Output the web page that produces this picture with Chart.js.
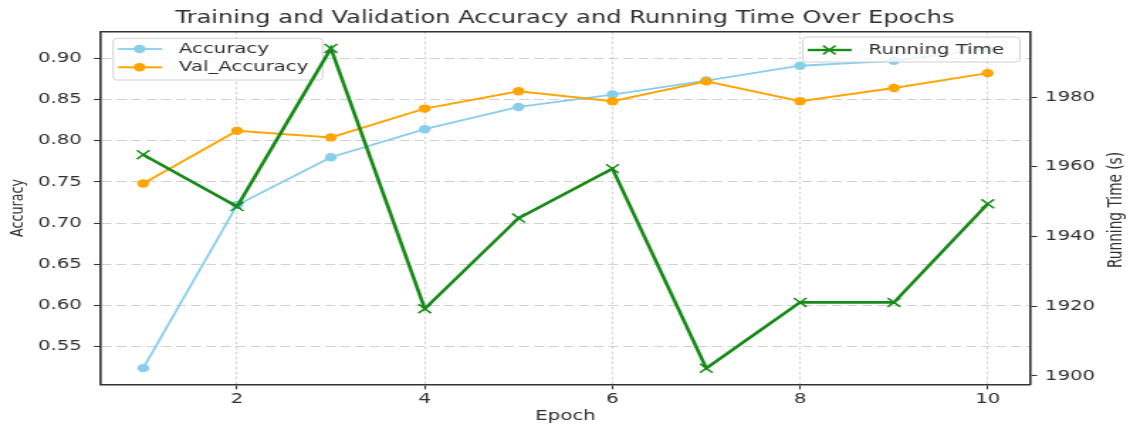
<!DOCTYPE html>
<html>
<head>
<meta charset="utf-8">
<script src="https://cdn.jsdelivr.net/npm/chart.js@4.4.1/dist/chart.umd.min.js"></script>
<style>
  html, body { margin: 0; padding: 0; background: #ffffff; }
  #c { display: block; width: 1130px; height: 430px; }
</style>
</head>
<body>
<canvas id="c" width="796" height="430" style="width:1130px;height:430px;"></canvas>
<script>
// ---- data ----
const epochs = [1, 2, 3, 4, 5, 6, 7, 8, 9, 10];
const accuracy = [0.524, 0.722, 0.780, 0.814, 0.841, 0.856, 0.873, 0.891, 0.897, 0.912];
const valAccuracy = [0.748, 0.812, 0.804, 0.839, 0.860, 0.848, 0.872, 0.848, 0.864, 0.882];
const runningTime = [1963.5, 1948.6, 1994.0, 1919.3, 1945.3, 1959.5, 1902.2, 1921.1, 1921.1, 1949.4];

const epochTicks = [2, 4, 6, 8, 10];
const accTicks = [0.55, 0.60, 0.65, 0.70, 0.75, 0.80, 0.85, 0.90];
const timeTicks = [1900, 1920, 1940, 1960, 1980];

const epochRange = [0.55, 10.45];
const accRange = [0.5044, 0.9323];
const timeRange = [1897.6, 1998.8];

const titleText = 'Training and Validation Accuracy and Running Time Over Epochs';
const xTitle = 'Epoch';
const yLeftTitle = 'Accuracy';
const yRightTitle = 'Running Time (s)';
const seriesNames = ['Accuracy', 'Val_Accuracy', 'Running Time'];

// ---- styling ----
const FONT = '"DejaVu Sans", "Liberation Sans", sans-serif';
const C_ACC = '#87CEEB';
const C_VAL = '#FFA500';
const C_TIME = '#178a17';
const SPINE = '#333333';
const GRID = 'rgba(170,170,170,0.6)';
const TXT = '#2e2e2e';

const toPts = (ys) => epochs.map((x, i) => ({ x: x, y: ys[i] }));

function drawMarker(ctx, style, cx, cy, color) {
  ctx.save();
  if (style === 'circle') {
    ctx.fillStyle = color;
    ctx.beginPath();
    ctx.arc(cx, cy, 4.2, 0, Math.PI * 2);
    ctx.fill();
  } else {
    ctx.strokeStyle = color;
    ctx.lineWidth = 1.5;
    const r = 4.4;
    ctx.beginPath();
    ctx.moveTo(cx - r, cy - r); ctx.lineTo(cx + r, cy + r);
    ctx.moveTo(cx + r, cy - r); ctx.lineTo(cx - r, cy + r);
    ctx.stroke();
  }
  ctx.restore();
}

function roundRect(ctx, x, y, w, h, r) {
  ctx.beginPath();
  ctx.moveTo(x + r, y);
  ctx.lineTo(x + w - r, y);
  ctx.quadraticCurveTo(x + w, y, x + w, y + r);
  ctx.lineTo(x + w, y + h - r);
  ctx.quadraticCurveTo(x + w, y + h, x + w - r, y + h);
  ctx.lineTo(x + r, y + h);
  ctx.quadraticCurveTo(x, y + h, x, y + h - r);
  ctx.lineTo(x, y + r);
  ctx.quadraticCurveTo(x, y, x + r, y);
  ctx.closePath();
}

function drawLegend(chart, box, items) {
  const ctx = chart.ctx;
  ctx.save();
  roundRect(ctx, box.x, box.y, box.w, box.h, 2.5);
  ctx.fillStyle = 'rgba(255,255,255,0.8)';
  ctx.fill();
  ctx.strokeStyle = 'rgba(204,204,204,0.9)';
  ctx.lineWidth = 1;
  ctx.stroke();
  items.forEach((it) => {
    ctx.strokeStyle = it.color;
    ctx.lineWidth = it.lw;
    ctx.beginPath();
    ctx.moveTo(box.x + 3.4, it.y);
    ctx.lineTo(box.x + 34.4, it.y);
    ctx.stroke();
    drawMarker(ctx, it.style, box.x + 18.6, it.y, it.color);
    ctx.fillStyle = TXT;
    ctx.font = '13.9px ' + FONT;
    ctx.textAlign = 'left';
    ctx.textBaseline = 'middle';
    ctx.fillText(it.label, box.x + 46.3, it.y + 0.5);
  });
  ctx.restore();
}

const overlay = {
  id: 'overlay',
  beforeDatasetsDraw(chart) {
    const { ctx, chartArea: a } = chart;
    ctx.save();
    ctx.strokeStyle = SPINE;
    ctx.lineWidth = 1.6;
    ctx.beginPath();
    ctx.moveTo(a.left, a.top);
    ctx.lineTo(a.right, a.top);
    ctx.stroke();
    ctx.restore();
  },
  afterDatasetDraw(chart, args) {
    if (args.index !== 1) return;
    const a = chart.chartArea;
    drawLegend(chart, { x: a.left + 8.6, y: a.top + 6.6, w: 147.5, h: 41.7 }, [
      { label: seriesNames[0], color: C_ACC, lw: 1.8, style: 'circle', y: a.top + 17.3 },
      { label: seriesNames[1], color: C_VAL, lw: 2.0, style: 'circle', y: a.top + 35.6 }
    ]);
  },
  afterDatasetsDraw(chart) {
    const a = chart.chartArea;
    drawLegend(chart, { x: a.right - 160, y: a.top + 5.3, w: 152.9, h: 25 }, [
      { label: seriesNames[2], color: C_TIME, lw: 2.4, style: 'cross', y: a.top + 18.3 }
    ]);
    const ctx = chart.ctx;
    ctx.save();
    ctx.translate(a.right + 60.5, (a.top + a.bottom) / 2 + 2);
    ctx.rotate(-Math.PI / 2);
    ctx.fillStyle = TXT;
    ctx.font = '13.7px ' + FONT;
    ctx.textAlign = 'center';
    ctx.textBaseline = 'middle';
    ctx.fillText(yRightTitle, 0, 0);
    ctx.restore();
  }
};

new Chart(document.getElementById('c'), {
  type: 'line',
  data: {
    datasets: [
      {
        label: seriesNames[0], data: toPts(accuracy), yAxisID: 'y', order: 3,
        borderColor: C_ACC, backgroundColor: C_ACC, borderWidth: 1.8,
        pointStyle: 'circle', pointRadius: 4.2, pointBorderWidth: 0,
        pointBackgroundColor: C_ACC, tension: 0
      },
      {
        label: seriesNames[1], data: toPts(valAccuracy), yAxisID: 'y', order: 2,
        borderColor: C_VAL, backgroundColor: C_VAL, borderWidth: 2.0,
        pointStyle: 'circle', pointRadius: 4.2, pointBorderWidth: 0,
        pointBackgroundColor: C_VAL, tension: 0
      },
      {
        label: seriesNames[2], data: toPts(runningTime), yAxisID: 'y2', order: 1,
        borderColor: C_TIME, backgroundColor: C_TIME, borderWidth: 2.6,
        pointStyle: 'crossRot', pointRadius: 6.3, pointBorderWidth: 1.5,
        pointBorderColor: C_TIME, tension: 0
      }
    ]
  },
  options: {
    responsive: false,
    animation: false,
    devicePixelRatio: 1,
    layout: { padding: 0 },
    events: [],
    plugins: {
      legend: { display: false },
      tooltip: { enabled: false },
      title: {
        display: true, text: titleText, color: TXT,
        font: { family: FONT, size: 17, weight: 'normal' },
        padding: { top: 8, bottom: 3.3 }
      }
    },
    scales: {
      x: {
        type: 'linear', position: 'bottom',
        min: epochRange[0], max: epochRange[1],
        afterBuildTicks: (s) => { s.ticks = epochTicks.map((v) => ({ value: v })); },
        afterFit: (s) => { s.height = 45.7; },
        ticks: {
          autoSkip: false, maxRotation: 0, color: TXT, padding: 2,
          font: { family: FONT, size: 13.9 },
          callback: (v) => String(v)
        },
        grid: { color: GRID, lineWidth: 0.9, drawTicks: true, tickLength: 5, tickColor: SPINE, tickWidth: 1.1 },
        border: { display: true, color: SPINE, width: 1.6, dash: [2.5, 2.5] },
        title: {
          display: true, text: xTitle, color: TXT,
          font: { family: FONT, size: 13.9 }, padding: { top: 0, bottom: 5 }
        }
      },
      y: {
        type: 'linear', position: 'left',
        min: accRange[0], max: accRange[1],
        afterBuildTicks: (s) => { s.ticks = accTicks.map((v) => ({ value: v })); },
        afterFit: (s) => { s.width = 71.15; },
        ticks: {
          autoSkip: false, color: TXT, padding: 8.5,
          font: { family: FONT, size: 13.9 },
          callback: (v) => Number(v).toFixed(2)
        },
        grid: { color: GRID, lineWidth: 0.9, drawTicks: true, tickLength: 5, tickColor: SPINE, tickWidth: 1.1 },
        border: { display: true, color: SPINE, width: 1.6, dash: [7, 3.5] },
        title: {
          display: true, text: yLeftTitle, color: TXT,
          font: { family: FONT, size: 12.7 }, padding: { top: 5.3, bottom: 0 }
        }
      },
      y2: {
        type: 'linear', position: 'right',
        min: timeRange[0], max: timeRange[1],
        afterBuildTicks: (s) => { s.ticks = timeTicks.map((v) => ({ value: v })); },
        afterFit: (s) => { s.width = 70.45; },
        ticks: {
          autoSkip: false, color: TXT, padding: 5.5,
          font: { family: FONT, size: 13.9 },
          callback: (v) => String(v)
        },
        grid: { drawOnChartArea: false, drawTicks: true, tickLength: 5, tickColor: SPINE, tickWidth: 1.1 },
        border: { display: true, color: SPINE, width: 1.6 },
        title: { display: false }
      }
    }
  },
  plugins: [overlay]
});
</script>
</body>
</html>
